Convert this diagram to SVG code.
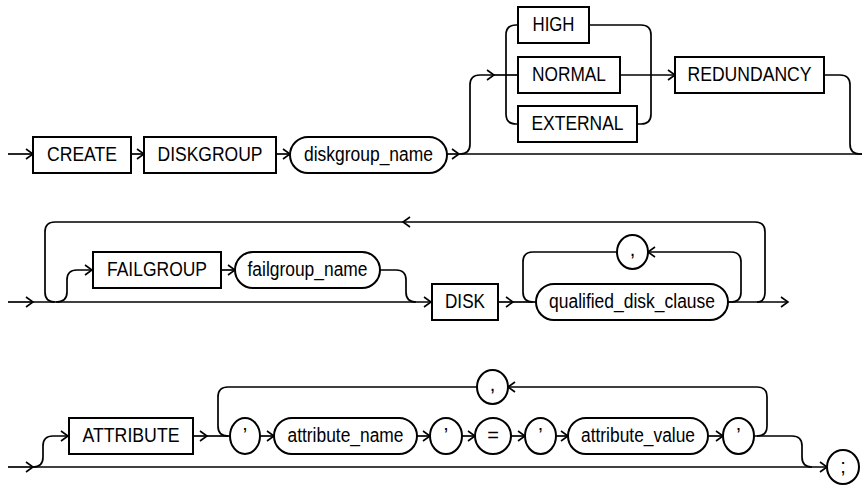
<svg xmlns="http://www.w3.org/2000/svg" width="864" height="485" viewBox="0 0 864 485">
<style>
.b{fill:#fff;stroke:#000;stroke-width:2}
.c{fill:none;stroke:#000;stroke-width:1.7}
text{font-family:"Liberation Sans",Arial,sans-serif;font-size:20px;fill:#000;text-anchor:middle}
</style>
<defs>
<marker id="a" markerWidth="10" markerHeight="12" refX="8" refY="6" orient="auto" markerUnits="userSpaceOnUse">
<path d="M1,1 L8,6 L1,11" fill="none" stroke="#000" stroke-width="1.6"/>
</marker>
</defs>
<g id="connectors">
<!-- row 1 -->
<path class="c" d="M8,154 H33" marker-end="url(#a)"/>
<path class="c" d="M131,154 H144" marker-end="url(#a)"/>
<path class="c" d="M276,154 H290" marker-end="url(#a)"/>
<path class="c" d="M447,154 H459" marker-end="url(#a)"/>
<path class="c" d="M459,154 H862"/>
<path class="c" d="M460,154 Q470,154 470,144 V85 Q470,75 480,75 H494" marker-end="url(#a)"/>
<path class="c" d="M494,75 H518"/>
<path class="c" d="M518,25 H516 Q506,25 506,35 V114 Q506,124 516,124 H518"/>
<path class="c" d="M589,25 H641 Q651,25 651,35 V114 Q651,124 641,124 H637"/>
<path class="c" d="M620,75 H675" marker-end="url(#a)"/>
<path class="c" d="M824,75 H840 Q850,75 850,85 V144 Q850,154 860,154 H862"/>
<!-- row 2 -->
<path class="c" d="M8,302 H33" marker-end="url(#a)"/>
<path class="c" d="M33,302 H431" marker-end="url(#a)"/>
<path class="c" d="M757,302 Q765,302 765,292 V232 Q765,222 755,222 H403" marker-end="url(#a)"/>
<path class="c" d="M403,222 H55 Q45,222 45,232 V292 Q45,302 55,302"/>
<path class="c" d="M56,302 Q67,302 67,292 V280 Q67,270 77,270 H92" marker-end="url(#a)"/>
<path class="c" d="M221,270 H235" marker-end="url(#a)"/>
<path class="c" d="M380,270 H396 Q406,270 406,280 V292 Q406,302 416,302"/>
<path class="c" d="M498,302 H513" marker-end="url(#a)"/>
<path class="c" d="M513,302 H536"/>
<path class="c" d="M617,252 H533 Q523,252 523,262 V292 Q523,302 533,302"/>
<path class="c" d="M728,302 H731 Q741,302 741,292 V262 Q741,252 731,252 H648" marker-end="url(#a)"/>
<path class="c" d="M728,302 H788" marker-end="url(#a)"/>
<!-- row 3 -->
<path class="c" d="M8,467 H33" marker-end="url(#a)"/>
<path class="c" d="M33,467 H827" marker-end="url(#a)"/>
<path class="c" d="M33,467 Q43,467 43,457 V446 Q43,436 53,436 H68" marker-end="url(#a)"/>
<path class="c" d="M193,436 H207" marker-end="url(#a)"/>
<path class="c" d="M207,436 H230"/>
<path class="c" d="M477,387 H228 Q218,387 218,397 V426 Q218,436 228,436"/>
<path class="c" d="M260,436 H274" marker-end="url(#a)"/>
<path class="c" d="M417,436 H430" marker-end="url(#a)"/>
<path class="c" d="M462,436 H475" marker-end="url(#a)"/>
<path class="c" d="M511,436 H525" marker-end="url(#a)"/>
<path class="c" d="M556,436 H568" marker-end="url(#a)"/>
<path class="c" d="M708,436 H723" marker-end="url(#a)"/>
<path class="c" d="M754,436 H792 Q802,436 802,446 V457 Q802,467 812,467"/>
<path class="c" d="M757,436 Q767,436 767,426 V397 Q767,387 757,387 H508" marker-end="url(#a)"/>
</g>
<g id="n-create"><rect class="b" x="33" y="137" width="98" height="36"/><text x="82" y="161" textLength="70" lengthAdjust="spacingAndGlyphs">CREATE</text></g>
<g id="n-diskgroup"><rect class="b" x="144" y="137" width="132" height="36"/><text x="210" y="161" textLength="105" lengthAdjust="spacingAndGlyphs">DISKGROUP</text></g>
<g id="n-diskgroup_name"><rect class="b" x="290" y="137" width="157" height="36" rx="18"/><text x="368.5" y="161" textLength="129" lengthAdjust="spacingAndGlyphs">diskgroup_name</text></g>
<g id="n-high"><rect class="b" x="518" y="7" width="71" height="36"/><text x="553.5" y="31" textLength="42" lengthAdjust="spacingAndGlyphs">HIGH</text></g>
<g id="n-normal"><rect class="b" x="518" y="57" width="102" height="36"/><text x="569" y="81" textLength="74" lengthAdjust="spacingAndGlyphs">NORMAL</text></g>
<g id="n-external"><rect class="b" x="518" y="106" width="119" height="36"/><text x="577.5" y="130" textLength="92" lengthAdjust="spacingAndGlyphs">EXTERNAL</text></g>
<g id="n-redundancy"><rect class="b" x="675" y="57" width="149" height="36"/><text x="749.5" y="81" textLength="124" lengthAdjust="spacingAndGlyphs">REDUNDANCY</text></g>
<g id="n-failgroup"><rect class="b" x="93" y="252" width="128" height="36"/><text x="157" y="276" textLength="100" lengthAdjust="spacingAndGlyphs">FAILGROUP</text></g>
<g id="n-failgroup_name"><rect class="b" x="235" y="252" width="145" height="36" rx="18"/><text x="307.5" y="276" textLength="120" lengthAdjust="spacingAndGlyphs">failgroup_name</text></g>
<g id="n-disk"><rect class="b" x="432" y="284" width="66" height="36"/><text x="465" y="308" textLength="40" lengthAdjust="spacingAndGlyphs">DISK</text></g>
<g id="n-qualified_disk_clause"><rect class="b" x="536" y="284" width="192" height="36" rx="18"/><text x="632" y="308" textLength="166" lengthAdjust="spacingAndGlyphs">qualified_disk_clause</text></g>
<g id="n-comma1"><ellipse class="b" cx="632.5" cy="252" rx="15.5" ry="17"/><text x="632.5" y="256">,</text></g>
<g id="n-attribute"><rect class="b" x="69" y="418" width="124" height="36"/><text x="131" y="442" textLength="97" lengthAdjust="spacingAndGlyphs">ATTRIBUTE</text></g>
<g id="n-quote1"><ellipse class="b" cx="245" cy="436" rx="15" ry="18"/><text x="245" y="442">’</text></g>
<g id="n-attribute_name"><rect class="b" x="274" y="418" width="143" height="36" rx="18"/><text x="345.5" y="442" textLength="116" lengthAdjust="spacingAndGlyphs">attribute_name</text></g>
<g id="n-quote2"><ellipse class="b" cx="446" cy="436" rx="16" ry="18"/><text x="446" y="442">’</text></g>
<g id="n-equals"><ellipse class="b" cx="493" cy="436" rx="18" ry="18"/><text x="493" y="442">=</text></g>
<g id="n-quote3"><ellipse class="b" cx="540.5" cy="436" rx="15.5" ry="18"/><text x="540.5" y="442">’</text></g>
<g id="n-attribute_value"><rect class="b" x="568" y="418" width="140" height="36" rx="18"/><text x="638" y="442" textLength="114" lengthAdjust="spacingAndGlyphs">attribute_value</text></g>
<g id="n-quote4"><ellipse class="b" cx="738.5" cy="436" rx="15.5" ry="18"/><text x="738.5" y="442">’</text></g>
<g id="n-comma2"><ellipse class="b" cx="492.5" cy="387" rx="15.5" ry="17"/><text x="492.5" y="391">,</text></g>
<g id="n-semicolon"><ellipse class="b" cx="843" cy="467" rx="16" ry="17"/><text x="843" y="473">;</text></g>
</svg>
